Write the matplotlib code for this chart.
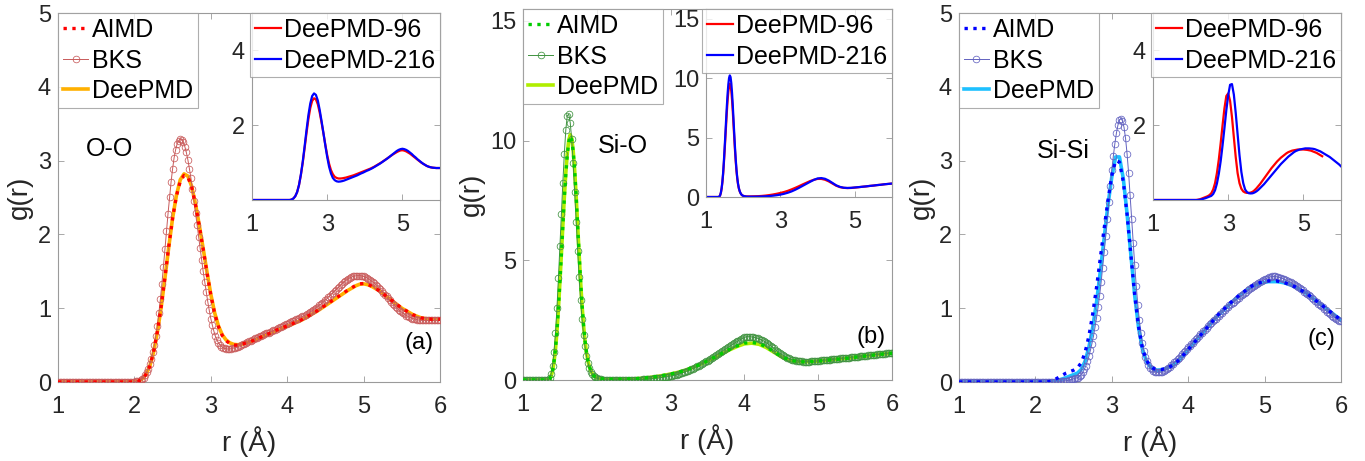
import numpy as np
import matplotlib
matplotlib.use("Agg")
import matplotlib.pyplot as plt

plt.rcParams['font.family'] = ['Liberation Sans', 'DejaVu Sans']

# radial grids (Angstrom)
r_bks = np.linspace(1.0, 6.0, 251)          # 0.02 step, BKS histogram
r_fine = np.linspace(1.0, 6.0, 101)         # 0.05 step
r_fine_96 = np.linspace(1.0, 5.5, 91)       # 96-atom box stops earlier
r_sio = np.concatenate([[1.0, 1.1, 1.2, 1.3], np.linspace(1.34, 2.2, 44), np.linspace(2.3, 6.0, 38)])

# ---- O-O ----
oo_aimd = [0]*21 + [
    0.01, 0.04, 0.10, 0.21, 0.40, 0.68, 1.02, 1.42, 1.84, 2.22,
    2.52, 2.72, 2.80, 2.78, 2.64, 2.40, 2.11, 1.80, 1.48, 1.18,
    0.93, 0.75, 0.63, 0.56, 0.52, 0.50, 0.50, 0.51, 0.525, 0.54,
    0.56, 0.585, 0.605, 0.63, 0.65, 0.675, 0.70, 0.72, 0.74, 0.76,
    0.78, 0.805, 0.825, 0.85, 0.88, 0.91, 0.94, 0.97, 1.005, 1.04,
    1.075, 1.11, 1.145, 1.18, 1.215, 1.25, 1.28, 1.31, 1.33, 1.335,
    1.325, 1.30, 1.27, 1.24, 1.20, 1.16, 1.12, 1.08, 1.04, 1.00,
    0.97, 0.94, 0.91, 0.89, 0.87, 0.86, 0.855, 0.85, 0.85, 0.85]
oo_deepmd = [0]*21 + [
    0.01, 0.04, 0.10, 0.21, 0.40, 0.67, 1.01, 1.41, 1.83, 2.22,
    2.53, 2.74, 2.82, 2.79, 2.65, 2.41, 2.12, 1.81, 1.49, 1.19,
    0.94, 0.76, 0.64, 0.57, 0.53, 0.51, 0.505, 0.51, 0.525, 0.54,
    0.56, 0.58, 0.60, 0.625, 0.645, 0.67, 0.695, 0.715, 0.735, 0.755,
    0.775, 0.80, 0.82, 0.845, 0.875, 0.905, 0.935, 0.965, 1.00, 1.035,
    1.07, 1.105, 1.14, 1.175, 1.21, 1.245, 1.275, 1.305, 1.325, 1.33,
    1.32, 1.30, 1.27, 1.24, 1.20, 1.16, 1.12, 1.08, 1.04, 1.00,
    0.97, 0.94, 0.91, 0.89, 0.87, 0.86, 0.855, 0.85, 0.85, 0.85]
oo_bks = [0]*51 + [
    0.01, 0.01, 0.02, 0.03, 0.04, 0.06, 0.09, 0.13, 0.18, 0.24,
    0.31, 0.40, 0.50, 0.62, 0.76, 0.93, 1.12, 1.33, 1.56, 1.80,
    2.04, 2.28, 2.50, 2.71, 2.89, 3.04, 3.15, 3.23, 3.27, 3.29,
    3.28, 3.25, 3.19, 3.11, 3.01, 2.89, 2.76, 2.61, 2.45, 2.29,
    2.13, 1.97, 1.81, 1.65, 1.50, 1.36, 1.22, 1.09, 0.97, 0.86,
    0.77, 0.69, 0.62, 0.57, 0.53, 0.50, 0.48, 0.465, 0.455, 0.45,
    0.447, 0.447, 0.45, 0.455, 0.46, 0.465, 0.47, 0.48, 0.49, 0.50,
    0.51, 0.52, 0.53, 0.54, 0.55, 0.56, 0.57, 0.58, 0.59, 0.60,
    0.61, 0.62, 0.63, 0.64, 0.65, 0.66, 0.665, 0.67, 0.68, 0.69,
    0.70, 0.71, 0.72, 0.73, 0.74, 0.75, 0.76, 0.77, 0.78, 0.79,
    0.80, 0.81, 0.82, 0.83, 0.84, 0.85, 0.86, 0.87, 0.88, 0.89,
    0.90, 0.91, 0.92, 0.935, 0.95, 0.96, 0.975, 0.99, 1.005, 1.02,
    1.04, 1.055, 1.07, 1.09, 1.11, 1.13, 1.15, 1.17, 1.19, 1.21,
    1.23, 1.25, 1.27, 1.29, 1.31, 1.33, 1.35, 1.37, 1.385, 1.40,
    1.41, 1.42, 1.43, 1.435, 1.44, 1.44, 1.44, 1.44, 1.435, 1.43,
    1.425, 1.415, 1.40, 1.385, 1.37, 1.355, 1.34, 1.32, 1.30, 1.28,
    1.26, 1.235, 1.21, 1.185, 1.16, 1.135, 1.11, 1.085, 1.06, 1.04,
    1.02, 1.00, 0.98, 0.96, 0.945, 0.93, 0.915, 0.90, 0.89, 0.88,
    0.87, 0.86, 0.855, 0.85, 0.845, 0.84, 0.84, 0.835, 0.835, 0.835,
    0.835, 0.835, 0.835, 0.835, 0.835, 0.835, 0.835, 0.835, 0.835, 0.835]
oo_dp96 = [0]*21 + [
    0.01, 0.04, 0.10, 0.21, 0.40, 0.67, 1.00, 1.39, 1.79, 2.16,
    2.46, 2.65, 2.72, 2.69, 2.56, 2.34, 2.07, 1.78, 1.48, 1.20,
    0.97, 0.80, 0.69, 0.62, 0.59, 0.575, 0.575, 0.58, 0.59, 0.60,
    0.615, 0.63, 0.645, 0.66, 0.68, 0.70, 0.72, 0.74, 0.76, 0.78,
    0.80, 0.82, 0.84, 0.865, 0.89, 0.92, 0.95, 0.98, 1.01, 1.045,
    1.08, 1.115, 1.15, 1.185, 1.22, 1.25, 1.28, 1.305, 1.325, 1.33,
    1.32, 1.30, 1.27, 1.24, 1.20, 1.16, 1.12, 1.08, 1.04, 1.00,
    0.97, 0.94, 0.91, 0.89, 0.875, 0.865, 0.86, 0.855, 0.855, 0.855]
oo_dp216 = [0]*21 + [
    0.01, 0.04, 0.10, 0.21, 0.40, 0.68, 1.03, 1.44, 1.87, 2.27,
    2.58, 2.78, 2.85, 2.81, 2.66, 2.41, 2.11, 1.79, 1.46, 1.15,
    0.89, 0.71, 0.59, 0.53, 0.50, 0.49, 0.495, 0.505, 0.52, 0.54,
    0.56, 0.58, 0.60, 0.62, 0.64, 0.66, 0.685, 0.71, 0.73, 0.755,
    0.78, 0.80, 0.825, 0.85, 0.88, 0.91, 0.94, 0.97, 1.005, 1.04,
    1.075, 1.11, 1.15, 1.19, 1.23, 1.27, 1.31, 1.34, 1.36, 1.37,
    1.36, 1.34, 1.31, 1.27, 1.23, 1.18, 1.14, 1.09, 1.05, 1.01,
    0.97, 0.94, 0.91, 0.89, 0.875, 0.865, 0.86, 0.855, 0.855, 0.855]

# ---- Si-O ----
sio_aimd = [0, 0, 0, 0, 0,
    0.04, 0.15, 0.38, 0.75, 1.30, 2.05, 3.00, 4.10, 5.25, 6.45,
    7.60, 8.60, 9.40, 9.95, 10.20, 10.05, 9.55, 8.75, 7.70, 6.50,
    5.30, 4.15, 3.15, 2.30, 1.65, 1.15, 0.80, 0.55, 0.38, 0.26,
    0.18, 0.13, 0.10, 0.08, 0.06, 0.05, 0.04, 0.035, 0.03, 0.03,
    0.03, 0.03, 0.03,
    0.03, 0.04, 0.05, 0.07, 0.10, 0.14, 0.19, 0.25, 0.32, 0.41,
    0.52, 0.65, 0.80, 0.96, 1.12, 1.28, 1.42, 1.54, 1.57, 1.52,
    1.38, 1.18, 0.98, 0.85, 0.78, 0.76, 0.77, 0.79, 0.82, 0.85,
    0.88, 0.91, 0.95, 0.99, 1.02, 1.06, 1.09, 1.12]
sio_deepmd = [0, 0, 0, 0, 0,
    0.04, 0.15, 0.37, 0.74, 1.28, 2.02, 2.97, 4.08, 5.25, 6.46,
    7.63, 8.65, 9.46, 10.02, 10.25, 10.10, 9.58, 8.76, 7.70, 6.49,
    5.28, 4.13, 3.13, 2.28, 1.63, 1.14, 0.79, 0.55, 0.38, 0.26,
    0.18, 0.13, 0.10, 0.08, 0.06, 0.05, 0.04, 0.035, 0.03, 0.03,
    0.03, 0.03, 0.03,
    0.03, 0.04, 0.05, 0.07, 0.10, 0.14, 0.19, 0.25, 0.32, 0.41,
    0.52, 0.65, 0.79, 0.94, 1.10, 1.26, 1.40, 1.51, 1.54, 1.49,
    1.35, 1.16, 0.97, 0.84, 0.78, 0.76, 0.77, 0.79, 0.82, 0.85,
    0.88, 0.91, 0.95, 0.99, 1.02, 1.06, 1.09, 1.12]
sio_bks = [0]*18 + [
    0.08, 0.25, 0.60, 1.15, 1.95, 3.00, 4.25, 5.60, 6.95, 8.25,
    9.45, 10.45, 11.05, 11.10, 10.75, 10.05, 9.05, 7.85, 6.60, 5.40,
    4.30, 3.35, 2.55, 1.90, 1.40, 1.00, 0.72, 0.50, 0.35, 0.24,
    0.16, 0.11, 0.08, 0.06, 0.04, 0.03, 0.02, 0.015, 0.01, 0.01,
    0.01, 0.01, 0.01, 0.01, 0.01, 0.01, 0.01, 0.01, 0.01, 0.01,
    0.01, 0.01, 0.01, 0.01, 0.01, 0.01, 0.01, 0.01,
    0.012, 0.014, 0.016, 0.018, 0.02, 0.024, 0.028, 0.032, 0.036, 0.04,
    0.046, 0.052, 0.058, 0.064, 0.07, 0.078, 0.086, 0.094, 0.10, 0.11,
    0.12, 0.13, 0.14, 0.15, 0.16, 0.175, 0.19, 0.205, 0.22, 0.24,
    0.26, 0.28, 0.30, 0.32, 0.345, 0.37, 0.395, 0.42, 0.45, 0.48,
    0.51, 0.54, 0.57, 0.60, 0.635, 0.67, 0.705, 0.74, 0.775, 0.81,
    0.85, 0.89, 0.93, 0.97, 1.01, 1.05, 1.09, 1.13, 1.17, 1.21,
    1.25, 1.29, 1.33, 1.37, 1.41, 1.45, 1.49, 1.53, 1.57, 1.61,
    1.65, 1.69, 1.72, 1.75, 1.78, 1.80, 1.81, 1.81,
    1.81, 1.80, 1.79, 1.775, 1.76, 1.74, 1.72, 1.69, 1.66, 1.63,
    1.59, 1.55, 1.51, 1.46, 1.42, 1.37, 1.32, 1.27, 1.22, 1.17,
    1.12, 1.08, 1.04, 1.00, 0.96, 0.93, 0.90, 0.875, 0.855, 0.84,
    0.825, 0.81, 0.80, 0.79, 0.78, 0.775, 0.77, 0.765, 0.765, 0.765,
    0.77, 0.775, 0.78, 0.785, 0.79, 0.795, 0.80,
    0.81, 0.815, 0.82, 0.83, 0.835, 0.84, 0.85, 0.855, 0.86, 0.87,
    0.875, 0.88, 0.89, 0.895, 0.90, 0.91, 0.915, 0.92, 0.93, 0.935,
    0.94, 0.95, 0.955, 0.96, 0.97, 0.975, 0.98, 0.99, 0.995, 1.00,
    1.01, 1.015, 1.02, 1.03, 1.035, 1.04, 1.05, 1.055, 1.06, 1.07,
    1.075, 1.08, 1.09, 1.095, 1.10, 1.11, 1.115, 1.12, 1.13, 1.135]
sio_dp96 = [0, 0, 0, 0, 0,
    0.04, 0.14, 0.35, 0.70, 1.21, 1.90, 2.80, 3.83, 4.92, 6.03,
    7.12, 8.08, 8.82, 9.33, 9.52, 9.38, 8.90, 8.15, 7.18, 6.06,
    4.95, 3.88, 2.95, 2.16, 1.55, 1.09, 0.76, 0.53, 0.37, 0.26,
    0.18, 0.13, 0.10, 0.08, 0.07, 0.06, 0.05, 0.05, 0.05, 0.05,
    0.05, 0.05, 0.05,
    0.06, 0.07, 0.09, 0.12, 0.16, 0.21, 0.27, 0.34, 0.42, 0.52,
    0.64, 0.77, 0.91, 1.06, 1.20, 1.34, 1.45, 1.52, 1.52, 1.45,
    1.31, 1.13, 0.95, 0.83, 0.77, 0.75, 0.76, 0.79, 0.82, 0.86,
    0.89, 0.93, 0.96, 1.00, 1.03, 1.07, 1.10, 1.13]
sio_dp216 = [0, 0, 0, 0, 0,
    0.04, 0.15, 0.37, 0.74, 1.28, 2.02, 2.97, 4.08, 5.24, 6.45,
    7.62, 8.64, 9.45, 10.00, 10.22, 10.08, 9.57, 8.75, 7.70, 6.49,
    5.28, 4.13, 3.13, 2.28, 1.63, 1.14, 0.79, 0.55, 0.38, 0.26,
    0.18, 0.13, 0.10, 0.08, 0.06, 0.05, 0.04, 0.035, 0.03, 0.03,
    0.03, 0.03, 0.03,
    0.03, 0.035, 0.045, 0.06, 0.08, 0.11, 0.15, 0.20, 0.27, 0.36,
    0.47, 0.61, 0.77, 0.94, 1.11, 1.28, 1.44, 1.56, 1.59, 1.53,
    1.38, 1.18, 0.98, 0.85, 0.78, 0.76, 0.77, 0.80, 0.83, 0.86,
    0.89, 0.93, 0.96, 1.00, 1.03, 1.07, 1.10, 1.13]

# ---- Si-Si ----
sisi_aimd = [0]*24 + [
    0.01, 0.03, 0.06, 0.09, 0.12, 0.14, 0.16, 0.19, 0.26, 0.40,
    0.62, 0.92, 1.28, 1.68, 2.08, 2.46, 2.80, 3.00, 2.98, 2.72,
    2.27, 1.72, 1.18, 0.75, 0.46, 0.30, 0.22, 0.18, 0.17, 0.17,
    0.18, 0.20, 0.23, 0.27, 0.32, 0.38, 0.44, 0.50, 0.56, 0.62,
    0.68, 0.74, 0.80, 0.86, 0.92, 0.97, 1.02, 1.07, 1.12, 1.16,
    1.20, 1.24, 1.28, 1.31, 1.33, 1.35, 1.36, 1.37, 1.37, 1.37,
    1.36, 1.35, 1.33, 1.31, 1.29, 1.26, 1.23, 1.20, 1.16, 1.12,
    1.08, 1.04, 1.00, 0.96, 0.92, 0.88, 0.84]
sisi_deepmd = [0]*25 + [
    0.01, 0.025, 0.04, 0.06, 0.08, 0.10, 0.12, 0.17, 0.28,
    0.47, 0.74, 1.08, 1.50, 1.95, 2.40, 2.78, 3.05, 3.05, 2.76,
    2.28, 1.72, 1.17, 0.74, 0.45, 0.29, 0.21, 0.17, 0.16, 0.165,
    0.18, 0.20, 0.23, 0.27, 0.32, 0.38, 0.44, 0.50, 0.56, 0.62,
    0.68, 0.74, 0.80, 0.86, 0.91, 0.96, 1.01, 1.06, 1.11, 1.15,
    1.19, 1.23, 1.27, 1.30, 1.32, 1.34, 1.35, 1.36, 1.36, 1.36,
    1.355, 1.345, 1.33, 1.31, 1.29, 1.26, 1.23, 1.20, 1.16, 1.12,
    1.08, 1.04, 1.00, 0.96, 0.92, 0.88, 0.84]
sisi_bks = [0]*66 + [
    0.005, 0.008, 0.01, 0.013, 0.016, 0.02, 0.025, 0.03, 0.036, 0.043,
    0.05, 0.055, 0.06, 0.08, 0.10, 0.13, 0.17, 0.22, 0.28, 0.35,
    0.43, 0.52, 0.62, 0.74, 0.87, 1.01, 1.17, 1.35, 1.55, 1.76,
    1.98, 2.21, 2.44, 2.66, 2.87, 3.06, 3.23, 3.37, 3.48, 3.55,
    3.57, 3.54, 3.45, 3.30, 3.09, 2.83, 2.53, 2.21, 1.89, 1.58,
    1.30, 1.05, 0.84, 0.67, 0.53, 0.42, 0.34, 0.28, 0.23, 0.195,
    0.17, 0.15, 0.14, 0.133, 0.13, 0.13, 0.133, 0.14, 0.15, 0.16,
    0.175, 0.19, 0.205, 0.225, 0.245, 0.265, 0.285, 0.305, 0.33, 0.35,
    0.375, 0.40, 0.42, 0.445, 0.47, 0.49, 0.515, 0.535, 0.56, 0.58,
    0.60, 0.625, 0.645, 0.67, 0.69, 0.71, 0.735, 0.755, 0.78, 0.80,
    0.82, 0.84, 0.86, 0.88, 0.90, 0.92, 0.94, 0.96, 0.98, 1.00,
    1.02, 1.04, 1.06, 1.075, 1.09, 1.11, 1.125, 1.14, 1.16, 1.175,
    1.19, 1.21, 1.225, 1.24, 1.255, 1.27, 1.285, 1.30, 1.315, 1.33,
    1.34, 1.355, 1.37, 1.38, 1.39, 1.40, 1.41, 1.42, 1.425, 1.43,
    1.43, 1.43, 1.425, 1.42, 1.415, 1.41, 1.40, 1.39, 1.38, 1.37,
    1.36, 1.35, 1.34, 1.325, 1.31, 1.30, 1.285, 1.27, 1.255, 1.24,
    1.22, 1.205, 1.19, 1.175, 1.16, 1.14, 1.12, 1.10, 1.08, 1.06,
    1.045, 1.03, 1.01, 0.99, 0.97, 0.95, 0.935, 0.92, 0.90, 0.885,
    0.87, 0.855, 0.84, 0.83, 0.82]
sisi_dp96 = [0]*24 + [
    0.01, 0.02, 0.04, 0.06, 0.08, 0.10, 0.13, 0.18, 0.28, 0.45,
    0.72, 1.08, 1.52, 2.00, 2.45, 2.78, 2.85, 2.65, 2.22, 1.68,
    1.15, 0.72, 0.45, 0.30, 0.23, 0.20, 0.19, 0.19, 0.20, 0.22,
    0.26, 0.31, 0.37, 0.43, 0.50, 0.57, 0.64, 0.71, 0.78, 0.85,
    0.91, 0.97, 1.03, 1.08, 1.13, 1.17, 1.21, 1.25, 1.28, 1.30,
    1.32, 1.33, 1.34, 1.35, 1.35, 1.35, 1.35, 1.345, 1.34, 1.33,
    1.32, 1.30, 1.28, 1.26, 1.23, 1.20, 1.17]
sisi_dp216 = [0]*25 + [
    0.01, 0.02, 0.035, 0.05, 0.07, 0.09, 0.11, 0.16, 0.26,
    0.44, 0.70, 1.04, 1.46, 1.92, 2.40, 2.80, 3.08, 3.10, 2.82,
    2.33, 1.76, 1.20, 0.75, 0.45, 0.28, 0.21, 0.18, 0.175, 0.18,
    0.20, 0.23, 0.27, 0.32, 0.37, 0.42, 0.48, 0.54, 0.60, 0.66,
    0.72, 0.78, 0.84, 0.90, 0.96, 1.01, 1.06, 1.11, 1.16, 1.20,
    1.24, 1.28, 1.31, 1.33, 1.35, 1.36, 1.37, 1.38, 1.38, 1.38,
    1.375, 1.37, 1.36, 1.34, 1.32, 1.30, 1.27, 1.24, 1.21, 1.18,
    1.15, 1.11, 1.07, 1.03, 0.99, 0.95, 0.90]

pair_names = ['O-O', 'Si-O', 'Si-Si']
panel_tags = ['(a)', '(b)', '(c)']

GRAY = '#9a9a9a'
TXT = '#262626'


def style_axes(ax, fs=17):
    for s in ax.spines.values():
        s.set_color(GRAY)
        s.set_linewidth(0.8)
    ax.tick_params(direction='in', length=4, width=0.6, color=GRAY,
                   labelcolor=TXT, labelsize=fs, top=True, right=True)
    ax.tick_params(axis='x', pad=10)
    ax.tick_params(axis='y', pad=5)


def main_panel(ax, r_line, aimd, deepmd, bks, cols, ylim, yticks, name, nxy, tag, txy, ylab_x):
    ax.plot(r_line[:len(deepmd)], deepmd, '-', color=cols[2], lw=2.6, zorder=2)
    ax.plot(r_bks, bks, '-', color=cols[1], lw=0.7, marker='o', ms=4.8,
            mfc='none', mec=cols[1], mew=0.55, zorder=3)
    ax.plot(r_line[:len(aimd)], aimd, ':', color=cols[0], lw=2.4, zorder=4)
    ax.set_xlim(1, 6)
    ax.set_ylim(*ylim)
    ax.set_xticks([1, 2, 3, 4, 5, 6])
    ax.set_yticks(yticks)
    style_axes(ax)
    ax.set_xlabel('r (Å)', fontsize=20, color=TXT)
    ax.set_ylabel('g(r)', fontsize=20, color=TXT)
    ax.xaxis.set_label_coords(0.5, -0.12)
    ax.yaxis.set_label_coords(ylab_x, 0.5)
    ax.text(nxy[0], nxy[1], name, fontsize=18, ha='center', va='center', color='black')
    ax.text(txy[0], txy[1], tag, fontsize=17, ha='center', va='center', color='black')
    h = [plt.Line2D([], [], ls=':', color=cols[0], lw=2.4),
         plt.Line2D([], [], ls='-', color=cols[1], lw=0.7, marker='o', ms=4.8,
                    mfc='none', mec=cols[1], mew=0.55),
         plt.Line2D([], [], ls='-', color=cols[2], lw=2.6)]
    leg = ax.legend(h, ['AIMD', 'BKS', 'DeePMD'], loc='upper left', fontsize=18,
                    borderaxespad=0, frameon=True, fancybox=False, borderpad=0.2,
                    handlelength=1.0, handletextpad=0.15, labelspacing=0.26, numpoints=1)
    leg.get_frame().set_edgecolor(GRAY)
    leg.get_frame().set_linewidth(0.8)


def inset_panel(ax, r96, g96, r216, g216, ylim, yticks):
    ax.plot(r96, g96, '-', color='#ff0000', lw=1.6)
    ax.plot(r216, g216, '-', color='#0000ff', lw=1.6)
    ax.set_xlim(1, 6)
    ax.set_ylim(*ylim)
    ax.set_xticks([1, 3, 5])
    ax.set_yticks(yticks)
    style_axes(ax)
    leg = ax.legend(['DeePMD-96', 'DeePMD-216'], loc='upper right', fontsize=18,
                    borderaxespad=0, frameon=True, fancybox=False, borderpad=0.2,
                    handlelength=1.05, handletextpad=0.12, labelspacing=0.26)
    leg.get_frame().set_edgecolor(GRAY)
    leg.get_frame().set_linewidth(0.8)


W, H = 1365, 461
fig = plt.figure(figsize=(W / 100, H / 100), dpi=100)

ax_a = fig.add_axes([58 / W, 79 / H, 382 / W, 369 / H])
ax_b = fig.add_axes([523 / W, 81 / H, 369 / W, 371 / H])
ax_c = fig.add_axes([959 / W, 79 / H, 382 / W, 369 / H])
in_a = fig.add_axes([252 / W, 261 / H, 188 / W, 187 / H])
in_b = fig.add_axes([706 / W, 264 / H, 186 / W, 188 / H])
in_c = fig.add_axes([1153 / W, 261 / H, 188 / W, 187 / H])

main_panel(ax_a, r_fine, oo_aimd, oo_deepmd, oo_bks, ['#ff0000', '#c85a5a', '#ffb000'],
           (0, 5), [0, 1, 2, 3, 4, 5], pair_names[0], (1.68, 3.16), panel_tags[0], (5.73, 0.53), -0.065)
main_panel(ax_b, r_sio, sio_aimd, sio_deepmd, sio_bks, ['#00cc00', '#3f923f', '#b0ee00'],
           (0, 15.5), [0, 5, 10, 15], pair_names[1], (2.35, 9.76), panel_tags[1], (5.72, 1.8), -0.103)
main_panel(ax_c, r_fine, sisi_aimd, sisi_deepmd, sisi_bks, ['#0000ff', '#6262c0', '#1ec0ff'],
           (0, 5), [0, 1, 2, 3, 4, 5], pair_names[2], (2.37, 3.13), panel_tags[2], (5.74, 0.58), -0.063)

inset_panel(in_a, r_fine, oo_dp96, r_fine, oo_dp216, (0, 5), [2, 4])
inset_panel(in_b, r_sio, sio_dp96, r_sio, sio_dp216, (0, 15.8), [0, 5, 10, 15])
inset_panel(in_c, r_fine_96, sisi_dp96, r_fine, sisi_dp216, (0, 5), [2, 4])

fig.savefig('out.png', dpi=100)
